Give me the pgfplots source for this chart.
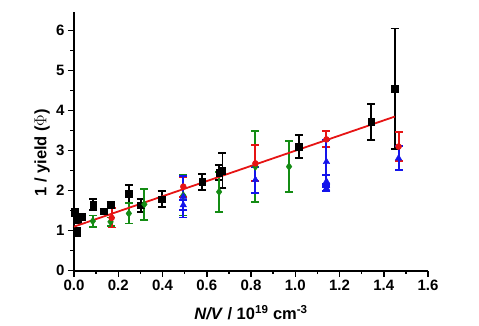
\documentclass[border=0pt]{standalone}
\usepackage{pgfplots}
\usepackage{pgfplotstable}
\pgfplotsset{compat=1.18}
\usepackage{fontspec}
\setmainfont{Liberation Sans}

% x = N/V (10^19 cm^-3), y = 1/yield, e = error
\pgfplotstableread{
x      y     e
0.004  1.45  0.08
0.012  0.96  0.10
0.020  1.30  0.12
0.036  1.34  0.07
0.087  1.65  0.13
0.135  1.48  0.07
0.165  1.64  0.07
0.248  1.92  0.22
0.301  1.63  0.16
0.396  1.79  0.19
0.579  2.22  0.20
0.655  2.45  0.18
0.671  2.50  0.43
1.016  3.10  0.29
1.344  3.72  0.45
1.449  4.55  1.50
}\blackdata

\pgfplotstableread{
x      y     e
0.085  1.24  0.14
0.165  1.22  0.11
0.248  1.43  0.25
0.318  1.66  0.39
0.494  1.88  0.50
0.656  1.97  0.50
0.820  2.60  0.88
0.972  2.60  0.63
}\greendata

\pgfplotstableread{
x      y     e
0.170  1.32  0.24
0.494  2.10  0.25
0.820  2.68  0.45
1.141  3.28  0.20
1.467  3.10  0.37
}\reddata

\pgfplotstableread{
x      y     e
0.494  1.64  0.12
0.494  1.85  0.52
0.820  2.27  0.33
1.141  2.72  0.55
1.141  2.23  0.15
1.141  2.06  0.06
1.467  2.81  0.30
}\bluedata

\definecolor{mygreen}{RGB}{20,140,20}
\definecolor{myblue}{RGB}{20,20,235}
\definecolor{myred}{RGB}{230,20,20}

\pgfplotsset{
  errstyle/.style={
    error bars/.cd, y dir=both, y explicit,
    error bar style={line width=1.9pt, #1},
    error mark options={rotate=90, mark size=4pt, line width=1.9pt, #1},
  },
}

\begin{document}
\begin{tikzpicture}
\useasboundingbox (-74pt,-55.3pt) rectangle (405pt,270.7pt);
\begin{axis}[
  at={(0,0)}, anchor=south west,
  scale only axis, width=354pt, height=259pt,
  xmin=0, xmax=1.6, ymin=0, ymax=6.47,
  axis x line=bottom, axis y line=left,
  axis line style={-, line width=1.8pt},
  xtick={0,0.2,0.4,0.6,0.8,1.0,1.2,1.4,1.6},
  ytick={0,1,2,3,4,5,6},
  minor x tick num=1, minor y tick num=1,
  tick align=outside,
  major tick length=6pt, minor tick length=3.5pt,
  every tick/.style={black, line width=1.5pt},
  /pgf/number format/assume math mode=true,
  xticklabel style={/pgf/number format/fixed, /pgf/number format/fixed zerofill, /pgf/number format/precision=1},
  ticklabel style={font=\fontsize{15}{16}\selectfont\bfseries},
  xlabel={\textbf{\textit{N/V}} \textbf{/ 10\textsuperscript{19} cm\textsuperscript{-3}}},
  ylabel={\textbf{1 / yield ($\Phi$)}},
  label style={font=\fontsize{16.5}{18}\selectfont\bfseries},
  xlabel style={at={(axis description cs:0.5,-0.163)}, anchor=center},
  ylabel style={at={(axis description cs:-0.09,0.455)}, anchor=center},
  clip=false,
]
\addplot[only marks, mark=square*, mark size=3.2pt, black,
  errstyle={black}] table[x=x, y=y, y error=e] {\blackdata};
\addplot[only marks, mark=diamond*, mark size=3.8pt, mygreen,
  errstyle={mygreen}] table[x=x, y=y, y error=e] {\greendata};
\addplot[only marks, mark=*, mark size=3pt, myred,
  errstyle={myred}] table[x=x, y=y, y error=e] {\reddata};
\addplot[only marks, mark=triangle*, mark size=3.8pt, myblue,
  errstyle={myblue}] table[x=x, y=y, y error=e] {\bluedata};
% linear fit
\addplot[myred, line width=1.8pt] coordinates {(0,1.10) (1.45,3.85)};
\end{axis}
\end{tikzpicture}
\end{document}
